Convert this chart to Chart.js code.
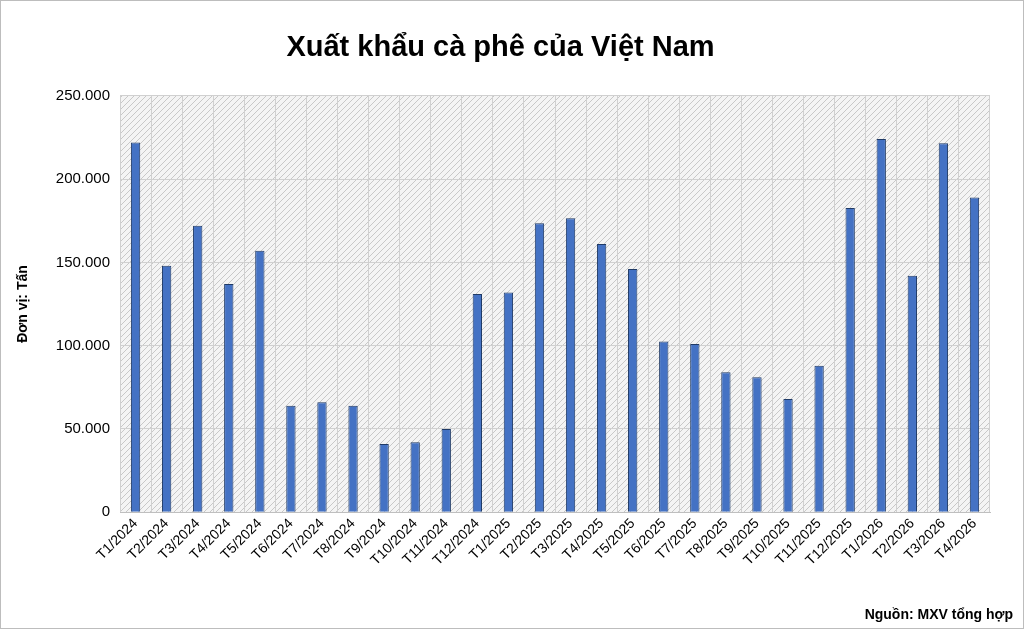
<!DOCTYPE html>
<html>
<head>
<meta charset="utf-8">
<script src="https://cdn.jsdelivr.net/npm/chart.js@4.4.1/dist/chart.umd.min.js"></script>
<style>
  html, body { margin: 0; padding: 0; background: #fff; }
  #wrap { width: 1022px; height: 627px; border: 1px solid #bdbdbd; position: relative; }
  #source { position: absolute; right: 10px; bottom: 6px; font: bold 14px "Liberation Sans", Arial, sans-serif; color: #000; }
</style>
</head>
<body>
<div id="wrap">
  <canvas id="chart" width="1022" height="627"></canvas>
  <div id="source">Nguồn: MXV tổng hợp</div>
</div>
<script>
const months = ['T1/2024', 'T2/2024', 'T3/2024', 'T4/2024', 'T5/2024', 'T6/2024', 'T7/2024',
    'T8/2024', 'T9/2024', 'T10/2024', 'T11/2024', 'T12/2024', 'T1/2025', 'T2/2025', 'T3/2025',
    'T4/2025', 'T5/2025', 'T6/2025', 'T7/2025', 'T8/2025', 'T9/2025', 'T10/2025', 'T11/2025',
    'T12/2025', 'T1/2026', 'T2/2026', 'T3/2026', 'T4/2026'];
const exportTons = [222000, 148000, 172000, 137000, 157000, 64000, 66000, 64000, 41000, 42000,
    50000, 131000, 132000, 173500, 176500, 161000, 146000, 102500, 101000, 84000, 81000, 68000,
    88000, 182600, 224000, 142000, 221500, 189000];

// diagonal hatch for the plot background
const makeHatch = (ctx) => {
    const p = document.createElement('canvas');
    p.width = 6; p.height = 6;
    const c = p.getContext('2d');
    c.fillStyle = '#f4f4f4';
    c.fillRect(0, 0, 6, 6);
    c.strokeStyle = '#c8c8c8';
    c.lineWidth = 1;
    c.beginPath();
    c.moveTo(0, 6); c.lineTo(6, 0);
    c.moveTo(-1, 1); c.lineTo(1, -1);
    c.moveTo(5, 7); c.lineTo(7, 5);
    c.stroke();
    return ctx.createPattern(p, 'repeat');
};

const hatchPlugin = {
    id: 'hatch',
    beforeDraw(chart) {
        const { ctx, chartArea: a } = chart;
        ctx.save();
        ctx.fillStyle = makeHatch(ctx);
        ctx.fillRect(a.left, a.top, a.right - a.left, a.bottom - a.top);
        ctx.restore();
    }
};

const fmt = (v) => v === 0 ? '0' : v.toLocaleString('de-DE');

new Chart(document.getElementById('chart').getContext('2d'), {
    type: 'bar',
    data: {
        labels: months,
        datasets: [{
            data: exportTons,
            backgroundColor: '#4472c4',
            borderColor: '#1f3a66',
            borderWidth: 1,
            barPercentage: 0.3,
            categoryPercentage: 1,
        }],
    },
    options: {
        responsive: false,
        animation: false,
        layout: { padding: { left: 10, right: 33, top: 8, bottom: 56 } },
        plugins: {
            legend: { display: false },
            tooltip: { enabled: false },
            title: {
                display: true,
                text: 'Xuất khẩu cà phê của Việt Nam',
                color: '#000',
                font: { family: 'Liberation Sans', size: 29, weight: 'bold' },
                padding: { top: 22, bottom: 30 },
            },
        },
        scales: {
            x: {
                grid: { color: '#d0d0d0', offset: true, drawTicks: false },
                border: { color: '#bfbfbf' },
                ticks: {
                    color: '#000', maxRotation: 45, minRotation: 45, autoSkip: false,
                    font: { family: 'Liberation Sans', size: 14 },
                },
            },
            y: {
                min: 0, max: 250000,
                ticks: {
                    stepSize: 50000, color: '#000', padding: 10,
                    font: { family: 'Liberation Sans', size: 15 },
                    callback: fmt,
                },
                grid: { color: '#d0d0d0', drawTicks: false },
                border: { display: false },
                title: {
                    display: true, text: 'Đơn vị: Tấn', color: '#000',
                    font: { family: 'Liberation Sans', size: 14, weight: 'bold' },
                    padding: { bottom: 14 },
                },
            },
        },
    },
    plugins: [hatchPlugin],
});
</script>
</body>
</html>
